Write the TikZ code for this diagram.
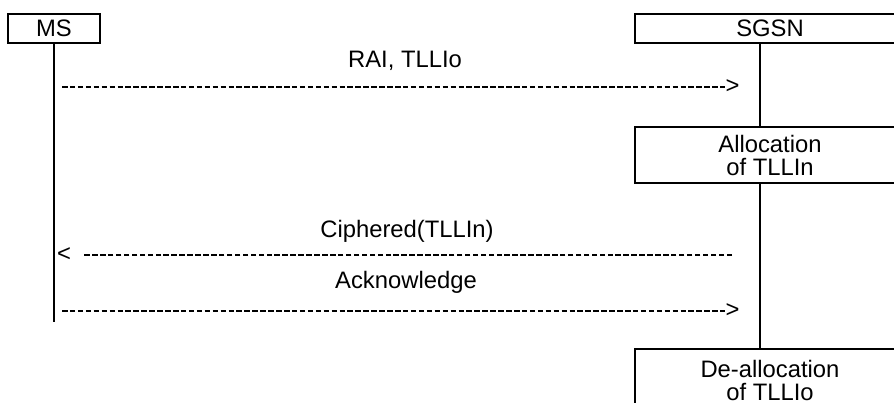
\documentclass[tikz,border=0pt]{standalone}
\usepackage{fontspec}
\setmainfont{Liberation Sans}
\begin{document}
\begin{tikzpicture}[x=1pt,y=-1pt,
  every node/.style={font=\fontsize{23.8}{23}\selectfont},
  box/.style={draw, line width=2pt, inner sep=0pt, align=center},
  life/.style={line width=2pt},
  msg/.style={line width=2pt, dash pattern=on 5.5pt off 2.43pt},
  lbl/.style={anchor=base, inner sep=0pt},
  tip/.style={inner sep=0pt, anchor=center}]
\clip (0,0) rectangle (894,403);
\useasboundingbox (0,0) rectangle (894,403);
% actors
\node[box, minimum width=92pt, minimum height=29pt] (ms) at (54,28.5) {MS};
\node[box, minimum width=270pt, minimum height=29pt] (sgsn) at (770,28.5) {SGSN};
\node[box, minimum width=270pt, minimum height=56pt] (alloc) at (770,155) {Allocation\\of TLLIn};
\node[box, minimum width=270pt, minimum height=62pt] (dealloc) at (770,380) {De-allocation\\of TLLIo};
% lifelines
\coordinate (sx) at (760,0);
\coordinate (msend) at (54,322);
\draw[life] (ms.south) -- (msend);
\draw[life] (sgsn.south -| sx) -- (alloc.north -| sx);
\draw[life] (alloc.south -| sx) -- (dealloc.north -| sx);
% message 1
\coordinate (a1s) at (62,87);
\node[tip] (gt1) at (732.5,87) {>};
\draw[msg] (a1s) -- (gt1.west);
\node[lbl] (l1) at (405,67.7) {RAI, TLLIo};
% message 2
\coordinate (a2e) at (732,255);
\node[tip] (lt2) at (64,255) {<};
\draw[msg, shorten >=11pt] (a2e) -- (lt2.east);
\node[lbl] (l2) at (407,238) {Ciphered(TLLIn)};
% message 3
\coordinate (a3s) at (62,311);
\node[tip] (gt3) at (732.5,311) {>};
\draw[msg] (a3s) -- (gt3.west);
\node[lbl] (l3) at (406,289) {Acknowledge};
\end{tikzpicture}
\end{document}
